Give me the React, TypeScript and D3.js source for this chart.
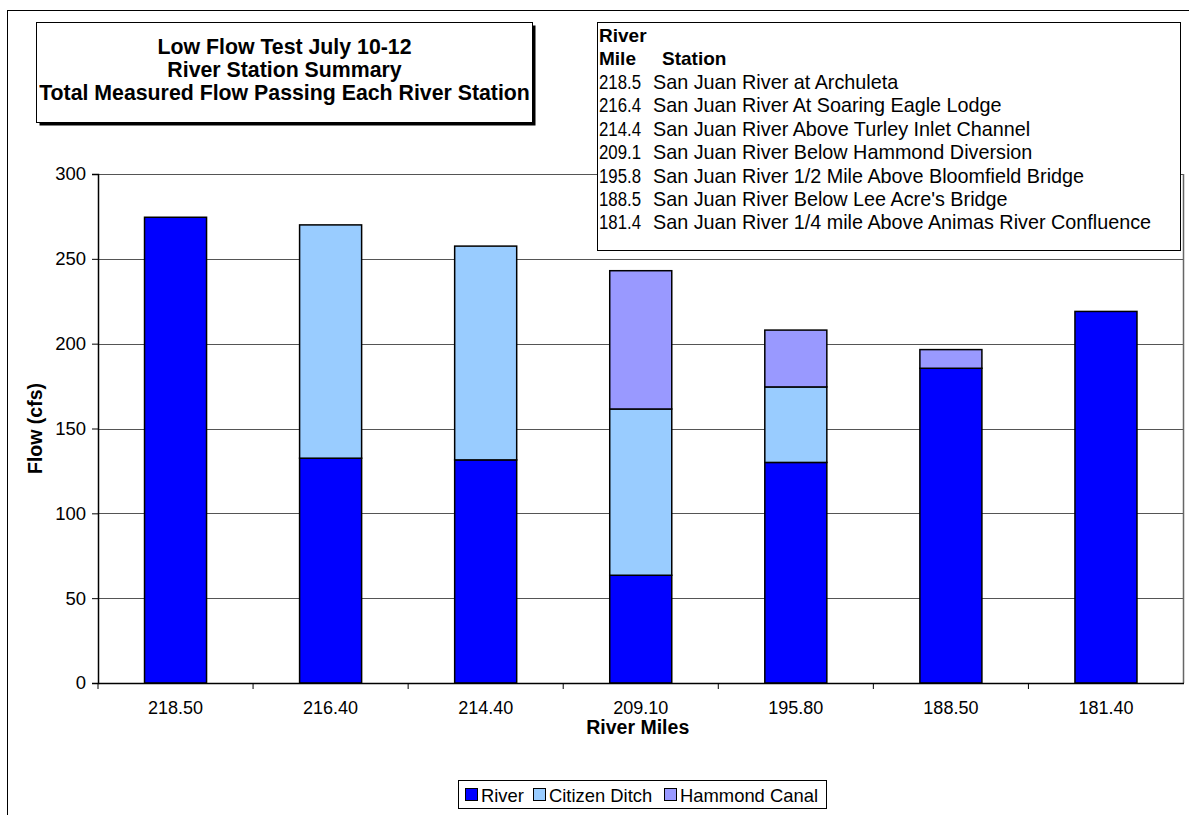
import { useEffect, useRef } from 'react';
import * as d3 from 'd3';

const riverMiles = [218.5, 216.4, 214.4, 209.1, 195.8, 188.5, 181.4];
const river = [274.5, 132.5, 131.5, 63.5, 130, 185.5, 219];
const citizenDitch = [0, 137.5, 126, 98, 44.5, 0, 0];
const hammondCanal = [0, 0, 0, 81.5, 33.5, 11, 0];
const seriesNames = ['River', 'Citizen Ditch', 'Hammond Canal'];
const seriesColors = ['#0000ff', '#99ccff', '#9999ff'];
const yTicks = [0, 50, 100, 150, 200, 250, 300];

const titleLines = [
  'Low Flow Test July 10-12',
  'River Station Summary',
  'Total Measured Flow Passing Each River Station',
];
const stationMiles = ['218.5', '216.4', '214.4', '209.1', '195.8', '188.5', '181.4'];
const stationNames = [
  'San Juan River at Archuleta',
  'San Juan River At Soaring Eagle Lodge',
  'San Juan River Above Turley Inlet Channel',
  'San Juan River Below Hammond Diversion',
  'San Juan River 1/2 Mile Above Bloomfield Bridge',
  "San Juan River Below Lee Acre's Bridge",
  'San Juan River 1/4 mile Above Animas River Confluence',
];

const FONT = '"Liberation Sans", Arial, sans-serif';

const App = () => {
  const ref = useRef<SVGSVGElement>(null);

  useEffect(() => {
    const svg = d3.select(ref.current);
    svg.selectAll('*').remove();

    const plot = { left: 98, right: 1183.5, top: 174, bottom: 683 };

    // outer chart frame (runs off the picture on the right and bottom)
    svg.append('rect')
      .attr('x', 7.5).attr('y', 10.5)
      .attr('width', 1200).attr('height', 820)
      .attr('fill', '#fff').attr('stroke', '#000').attr('stroke-width', 1);

    const x = d3.scaleBand<string>()
      .domain(riverMiles.map((d) => d.toFixed(2)))
      .range([plot.left, plot.right]);

    const y = d3.scaleLinear()
      .domain([0, 300])
      .range([plot.bottom, plot.top]);

    const barW = x.bandwidth() / 2.5;

    // gridlines
    svg.append('g')
      .selectAll('line')
      .data(yTicks.filter((t) => t > 0))
      .enter()
      .append('line')
      .attr('x1', plot.left).attr('x2', plot.right)
      .attr('y1', (d) => Math.round(y(d)) + 0.5)
      .attr('y2', (d) => Math.round(y(d)) + 0.5)
      .attr('stroke', '#555').attr('stroke-width', 1);

    // right edge of plot area
    svg.append('line')
      .attr('x1', plot.right).attr('x2', plot.right)
      .attr('y1', plot.top).attr('y2', plot.bottom)
      .attr('stroke', '#666').attr('stroke-width', 1.5);

    // stacked bars
    const rows = riverMiles.map((m, i) => ({
      key: m.toFixed(2),
      River: river[i],
      'Citizen Ditch': citizenDitch[i],
      'Hammond Canal': hammondCanal[i],
    }));
    const stacked = d3.stack<any>().keys(seriesNames)(rows);

    stacked.forEach((layer, si) => {
      svg.append('g')
        .selectAll('rect')
        .data(layer.filter((d) => d[1] - d[0] > 0))
        .enter()
        .append('rect')
        .attr('x', (d) => (x(d.data.key) || 0) + (x.bandwidth() - barW) / 2)
        .attr('y', (d) => y(d[1]))
        .attr('width', barW)
        .attr('height', (d) => y(d[0]) - y(d[1]))
        .attr('fill', seriesColors[si])
        .attr('stroke', '#000')
        .attr('stroke-width', 1.5);
    });

    // y axis
    const yAxis = svg.append('g')
      .attr('transform', `translate(${plot.left},0)`)
      .call(d3.axisLeft(y).tickValues(yTicks).tickSize(6).tickPadding(6));
    yAxis.select('.domain').attr('stroke', '#000').attr('stroke-width', 1.5);
    yAxis.selectAll('.tick line').attr('stroke', '#000');
    yAxis.selectAll('text')
      .attr('font-family', FONT).attr('font-size', 18.5).attr('fill', '#000');

    // x axis
    const xAxis = svg.append('g')
      .attr('transform', `translate(0,${plot.bottom})`)
      .call(d3.axisBottom(x).tickSize(0).tickPadding(18));
    xAxis.select('.domain').attr('stroke', '#000').attr('stroke-width', 1.5);
    xAxis.selectAll('text')
      .attr('font-family', FONT).attr('font-size', 18).attr('fill', '#000');
    // ticks between categories
    svg.append('g')
      .selectAll('line')
      .data(x.domain())
      .enter()
      .append('line')
      .attr('x1', (d) => (x(d) || 0))
      .attr('x2', (d) => (x(d) || 0))
      .attr('y1', plot.bottom).attr('y2', plot.bottom + 6)
      .attr('stroke', '#000');

    // axis titles
    svg.append('text')
      .attr('x', (plot.left + plot.right) / 2 - 3).attr('y', 734)
      .attr('text-anchor', 'middle')
      .attr('font-family', FONT).attr('font-size', 19.5).attr('font-weight', 'bold')
      .text('River Miles');
    svg.append('text')
      .attr('transform', `translate(42,${(plot.top + plot.bottom) / 2}) rotate(-90)`)
      .attr('text-anchor', 'middle')
      .attr('font-family', FONT).attr('font-size', 19.5).attr('font-weight', 'bold')
      .text('Flow (cfs)');

    // title box with shadow
    svg.append('rect')
      .attr('x', 39.5).attr('y', 25.5).attr('width', 496).attr('height', 100)
      .attr('fill', '#000');
    svg.append('rect')
      .attr('x', 36.5).attr('y', 22.5).attr('width', 496).attr('height', 100)
      .attr('fill', '#fff').attr('stroke', '#000').attr('stroke-width', 1);
    svg.append('g')
      .selectAll('text')
      .data(titleLines)
      .enter()
      .append('text')
      .attr('x', 284.5)
      .attr('y', (_, i) => 54 + i * 23.2)
      .attr('text-anchor', 'middle')
      .attr('font-family', FONT).attr('font-size', 21.3).attr('font-weight', 'bold')
      .text((d) => d);

    // station table box
    const tb = svg.append('g');
    tb.append('rect')
      .attr('x', 597.5).attr('y', 22.5).attr('width', 583).attr('height', 228)
      .attr('fill', '#fff').attr('stroke', '#000').attr('stroke-width', 1);
    tb.append('text')
      .attr('x', 599).attr('y', 42)
      .attr('font-family', FONT).attr('font-size', 19).attr('font-weight', 'bold')
      .text('River');
    tb.append('text')
      .attr('x', 599).attr('y', 65)
      .attr('font-family', FONT).attr('font-size', 19).attr('font-weight', 'bold')
      .text('Mile');
    tb.append('text')
      .attr('x', 662).attr('y', 65)
      .attr('font-family', FONT).attr('font-size', 19).attr('font-weight', 'bold')
      .text('Station');
    stationMiles.forEach((m, i) => {
      tb.append('text')
        .attr('x', 599).attr('y', 89 + i * 23.4)
        .attr('font-family', FONT).attr('font-size', 19.5)
        .attr('textLength', 42).attr('lengthAdjust', 'spacingAndGlyphs')
        .text(m);
      tb.append('text')
        .attr('x', 653).attr('y', 89 + i * 23.4)
        .attr('font-family', FONT).attr('font-size', 19.8)
        .text(stationNames[i]);
    });

    // series legend
    const lg = svg.append('g');
    lg.append('rect')
      .attr('x', 458.5).attr('y', 780.5).attr('width', 368).attr('height', 28)
      .attr('fill', '#fff').attr('stroke', '#000').attr('stroke-width', 1);
    const legendX = [465, 533, 664];
    seriesNames.forEach((name, i) => {
      lg.append('rect')
        .attr('x', legendX[i] + 0.5).attr('y', 788.5).attr('width', 12).attr('height', 12)
        .attr('fill', seriesColors[i]).attr('stroke', '#000');
      lg.append('text')
        .attr('x', legendX[i] + 16).attr('y', 802)
        .attr('font-family', FONT).attr('font-size', 18.4)
        .text(name);
    });
  }, []);

  return (
    <div style={{ position: 'absolute', left: 0, top: 0 }}>
      <svg ref={ref} width={1189} height={815} style={{ display: 'block' }}></svg>
    </div>
  );
};

export default App;
